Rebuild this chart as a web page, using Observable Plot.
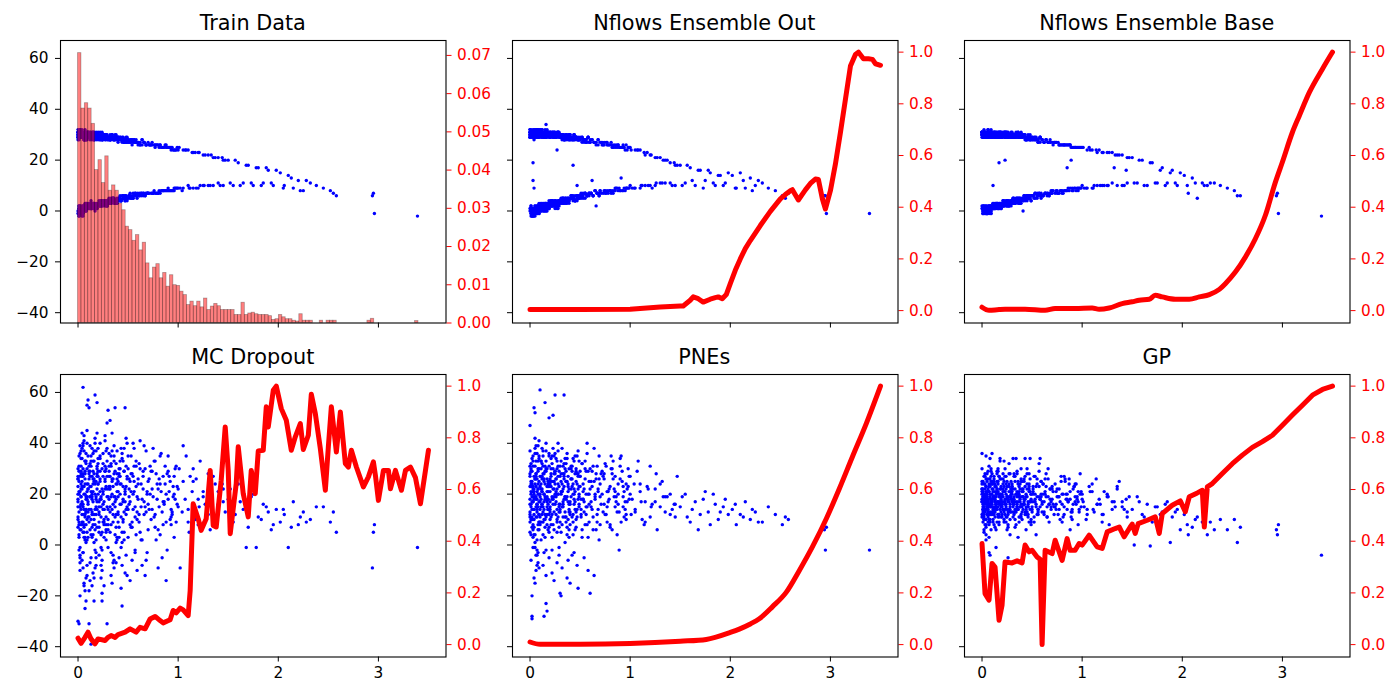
<!DOCTYPE html>
<html><head><meta charset="utf-8">
<script src="https://cdn.jsdelivr.net/npm/d3@7"></script>
<script src="https://cdn.jsdelivr.net/npm/@observablehq/plot@0.6"></script>
<style>
body{margin:0;background:#fff;}
#fig{position:relative;width:1400px;height:700px;background:#fff;font-family:"DejaVu Sans",sans-serif;overflow:hidden;}
.title{position:absolute;text-align:center;font-family:"DejaVu Sans",sans-serif;font-size:20.8px;line-height:21px;color:#000;white-space:nowrap;}
</style></head><body><div id="fig"></div>
<script>
// shared sample inputs (x) for all six panels
const xs = [
0,0.01,0.02,0.03,0.04,0.05,0.06,0.07,0.08,0.09,
0.01,0,0.03,0.02,0.05,0.04,0.07,0.06,0.09,0.08,
0,0.01,0.02,0.03,0.04,0.05,0.06,0.07,0.08,0.09,
0.01,0,0.03,0.02,0.05,0.04,0.07,0.06,0.09,0.08,
0,0.01,0.02,0.03,0.04,0.05,0.06,0.07,0.08,0.09,
0.01,0,0.03,0.02,0.05,0.04,0.07,0.06,0.09,0.08,
0,0.01,0.02,0.03,0.04,0.05,0.06,0.07,0.08,0.09,
0.01,0,0.03,0.02,0.05,0.04,0.07,0.06,0.09,0.08,
0,0.01,0.02,0.03,0.04,0.05,0.06,0.07,0.08,0.09,
0.1,0.11,0.12,0.13,0.14,0.15,0.16,0.17,0.18,0.19,
0.11,0.1,0.13,0.12,0.15,0.14,0.17,0.16,0.19,0.18,
0.1,0.11,0.12,0.13,0.14,0.15,0.16,0.17,0.18,0.19,
0.11,0.1,0.13,0.12,0.15,0.14,0.17,0.16,0.19,0.18,
0.1,0.11,0.12,0.13,0.14,0.15,0.16,0.17,0.18,0.19,
0.11,0.1,0.13,0.12,0.15,0.14,0.17,0.16,0.19,0.18,
0.1,0.11,0.12,0.13,0.14,0.15,0.16,0.17,0.18,0.19,
0.2,0.21,0.22,0.23,0.24,0.25,0.26,0.27,0.28,0.29,
0.21,0.2,0.23,0.22,0.25,0.24,0.27,0.26,0.29,0.28,
0.2,0.21,0.22,0.23,0.24,0.25,0.26,0.27,0.28,0.29,
0.21,0.2,0.23,0.22,0.25,0.24,0.27,0.26,0.29,0.28,
0.2,0.21,0.22,0.23,0.24,0.25,0.26,0.27,0.28,0.29,
0.21,0.2,0.23,0.22,0.25,0.24,0.27,0.26,0.29,0.28,
0.3,0.31,0.32,0.33,0.34,0.35,0.36,0.37,0.38,0.39,
0.31,0.3,0.33,0.32,0.35,0.34,0.37,0.36,0.39,0.38,
0.3,0.31,0.32,0.33,0.34,0.35,0.36,0.37,0.38,0.39,
0.31,0.3,0.33,0.32,0.35,0.34,0.37,0.36,0.39,0.38,
0.3,0.31,0.32,0.33,0.34,0.35,0.36,0.37,0.38,0.39,
0.4,0.41,0.42,0.43,0.44,0.45,0.46,0.47,0.48,0.49,
0.41,0.4,0.43,0.42,0.45,0.44,0.47,0.46,0.49,0.48,
0.4,0.41,0.42,0.43,0.44,0.45,0.46,0.47,0.48,0.49,
0.41,0.4,0.43,0.42,0.45,0.44,0.47,0.46,0.49,0.48,
0.5,0.51,0.52,0.53,0.54,0.55,0.56,0.57,0.58,0.59,
0.51,0.5,0.53,0.52,0.55,0.54,0.57,0.56,0.59,0.58,
0.5,0.51,0.52,0.53,0.54,0.55,0.56,0.57,0.58,0.59,
0.6,0.61,0.62,0.63,0.64,0.65,0.66,0.67,0.68,0.69,
0.61,0.6,0.63,0.62,0.65,0.64,0.67,0.66,0.69,0.68,
0.7,0.73,0.76,0.79,0.82,0.85,0.88,0.91,0.94,0.97,
0.71,0.74,0.77,0.8,0.83,0.86,0.89,0.92,0.95,0.98,
0.72,0.75,0.78,0.81,0.84,0.87,0.9,0.93,0.96,0.99,
0.7,0.74,0.78,0.81,0.84,0.87,0.9,0.93,0.96,0.99,
0.72,0.75,0.77,0.8,0.82,0.85,0.88,0.9,0.93,0.96,
1,1.05,1.1,1.15,1.2,1.25,1.3,1.35,1.4,1.45,
1.02,1.07,1.12,1.17,1.22,1.27,1.32,1.37,1.42,1.47,
1.01,1.04,1.08,1.11,1.14,1.18,1.21,1.26,1.33,1.44,
1.5,1.55,1.6,1.65,1.7,1.75,1.8,1.85,1.9,1.95,
1.52,1.57,1.62,1.68,1.73,1.78,1.83,1.88,1.93,1.98,
2.02,2.06,2.1,2.15,2.2,2.25,2.32,2.38,2.45,2.95,
2.05,2.13,2.22,2.28,2.52,2.55,2.58,2.94,2.96,3.39,
0,0.01,0.02,0.03,0.04,0.05,0.06,0.07,0.08,0.09,
0.01,0,0.03,0.02,0.05,0.04,0.07,0.06,0.09,0.08,
0,0.01,0.02,0.03,0.04,0.05,0.06,0.07,0.08,0.09,
0.01,0,0.03,0.02,0.05,0.04,0.07,0.06,0.09,0.08,
0.1,0.11,0.12,0.13,0.14,0.15,0.16,0.17,0.18,0.19,
0.11,0.1,0.13,0.12,0.15,0.14,0.17,0.16,0.19,0.18,
0.1,0.11,0.12,0.13,0.14,0.15,0.16,0.17,0.18,0.19,
0.2,0.21,0.22,0.23,0.24,0.25,0.26,0.27,0.28,0.29,
0.21,0.2,0.23,0.22,0.25,0.24,0.27,0.26,0.29,0.28,
0.3,0.31,0.32,0.33,0.34,0.35,0.36,0.37,0.38,0.39,
0.31,0.3,0.33,0.32,0.35,0.34,0.37,0.36,0.39,0.38,
0.4,0.41,0.42,0.43,0.44,0.45,0.46,0.47,0.48,0.49,
0.41,0.4,0.43,0.42,0.45,0.44,0.47,0.46,0.49,0.48,
0.51,0.5,0.53,0.52,0.55,0.54,0.57,0.56,0.59,0.58,
0.6,0.61,0.62,0.63,0.64,0.65,0.66,0.67,0.68,0.69,
0.7,0.73,0.76,0.79,0.82,0.85,0.88,0.91,0.94,0.97,
0.71,0.74,0.77,0.8,0.83,0.86,0.89,0.92,0.95,0.98,
1,1.05,1.1,1.15,1.2,1.25,1.3,1.35,1.4,1.45
];

const yTrain = [
31,-1,29,1,30,-2,28,2,31,1,
1,30,-1,32,0,29,3,30,2,28,
29,2,31,0,-2,30,1,32,0,29,
0,28,30,-1,31,2,29,1,30,3,
32,1,-1,29,31,0,2,30,29,1,
2,31,29,0,-1,30,28,2,1,31,
30,-2,1,31,29,1,30,0,3,28,
28,0,31,2,30,-1,1,29,31,0,
-1,29,2,30,0,31,2,28,30,1,
30,2,29,1,31,3,29,2,30,1,
1,31,3,29,2,30,0,29,3,30,
29,2,30,4,1,31,28,2,29,3,
3,30,1,29,31,2,30,1,2,29,
31,1,2,30,29,3,1,30,28,2,
2,29,30,3,1,28,30,2,29,1,
30,3,29,1,2,30,3,29,2,30,
29,3,30,2,28,4,30,3,29,2,
2,29,4,31,3,28,2,30,4,29,
30,2,3,29,28,4,30,3,2,29,
4,28,29,3,30,2,4,29,30,3,
29,3,2,30,4,29,3,28,29,4,
3,30,29,2,28,4,30,3,2,30,
29,4,28,3,30,5,29,4,28,3,
3,29,5,28,4,30,3,28,5,29,
28,4,29,3,5,28,4,30,3,29,
5,29,3,28,29,4,28,5,29,4,
29,3,4,28,30,5,3,29,4,28,
28,5,29,4,28,6,27,5,29,4,
5,28,4,29,6,28,5,27,5,28,
29,4,6,28,27,5,28,4,6,29,
4,27,28,5,29,6,4,28,5,27,
28,5,27,6,28,5,27,7,28,6,
6,27,5,28,7,27,6,28,5,27,
27,6,7,28,26,5,28,6,27,7,
27,6,26,7,28,6,27,7,26,7,
7,27,6,26,7,28,6,27,7,26,
27,7,26,7,26,8,25,8,25,9,
7,26,7,26,8,25,8,25,8,24,
26,7,26,8,25,8,25,8,24,9,
7,27,7,25,8,26,8,24,9,25,
26,7,25,7,26,8,26,9,25,8,
24,9,24,9,23,10,22,10,21,10,
9,24,9,23,10,22,10,21,10,20,
25,8,24,9,23,9,23,10,22,21,
20,10,19,11,18,10,17,11,16,10,
11,20,10,18,11,17,10,17,11,16,
15,10,14,9,12,8,11,10,9,7,
9,13,8,12,8,7,6,6,-1,-2,
30,0,32,-1,29,2,31,1,28,2,
-2,31,0,29,1,32,2,29,3,30,
29,1,30,-1,31,0,28,2,30,2,
0,29,1,31,-1,30,1,28,2,31,
31,2,28,1,30,3,31,2,29,3,
2,29,1,31,3,30,2,28,1,29,
29,1,31,3,30,2,28,3,31,2,
30,3,28,4,31,2,29,4,28,3,
3,31,2,28,4,30,3,29,2,30,
28,3,30,4,29,5,28,3,30,4,
4,29,3,28,5,29,4,28,3,29,
29,5,28,4,29,5,28,6,27,5,
5,29,4,28,5,28,6,27,5,28,
6,28,5,27,6,28,7,27,6,27,
26,6,27,7,26,7,27,6,26,7,
7,26,8,26,7,25,8,25,8,24,
26,7,26,7,25,8,25,8,24,9,
9,24,10,23,9,22,10,21,11,20
];

const yOut = [
31,-1,30,19,29,-2,31,0,30,1,
0,31,12,29,1,30,-1,32,2,30,
30,1,31,-1,9,32,0,29,2,31,
-1,29,31,1,30,-2,32,0,29,2,
31,2,0,30,31,-1,1,29,32,0,
1,30,32,-2,0,31,30,1,-1,29,
29,0,-1,31,30,2,31,-1,1,30,
32,1,30,-1,29,0,2,31,30,1,
0,30,-2,31,1,29,0,32,31,2,
30,1,31,2,29,0,31,3,30,1,
2,30,0,32,1,31,3,29,2,30,
31,0,30,3,1,29,34,2,31,3,
1,31,2,30,32,0,30,3,1,29,
30,2,1,31,29,3,2,30,31,1,
3,31,30,1,2,29,32,0,30,2,
31,2,29,3,1,30,2,31,3,30,
30,2,31,3,29,1,30,4,31,2,
3,30,2,31,4,29,24,30,3,31,
29,3,2,31,30,4,29,3,1,30,
2,31,30,4,29,3,1,30,31,2,
31,3,4,29,2,30,3,31,30,4,
4,29,30,2,31,3,30,2,4,29,
29,4,30,3,28,5,30,4,29,5,
4,30,3,29,5,28,4,30,3,29,
30,5,28,4,3,29,5,30,4,28,
3,29,5,30,28,4,29,3,30,5,
29,4,5,30,28,3,4,29,5,30,
29,5,28,18,30,4,29,6,28,5,
6,29,5,28,4,30,10,29,5,28,
28,6,5,29,30,4,29,6,5,28,
5,30,28,6,29,5,4,28,6,29,
28,6,29,5,28,7,27,6,29,6,
6,28,7,29,5,28,6,27,7,29,
29,5,6,28,27,7,28,6,29,7,
28,7,12,6,27,8,2,7,28,6,
7,27,6,28,8,27,7,26,6,28,
27,7,27,8,26,8,26,13,25,9,
7,27,8,26,7,26,9,25,8,25,
27,8,26,7,26,9,25,8,26,9,
8,26,7,27,8,25,8,26,9,25,
26,7,27,8,25,9,26,8,25,9,
25,9,24,10,22,10,21,11,19,10,
9,24,10,23,9,21,11,20,10,18,
24,9,24,10,23,10,22,11,20,19,
18,11,17,10,16,12,15,10,14,11,
10,18,12,16,9,16,11,14,10,15,
14,9,15,9,13,10,11,9,8,6,
9,12,8,12,6,5,7,6,-1,-1,
29,1,31,-2,32,0,30,2,29,-1,
2,32,-1,30,0,28,1,31,0,29,
32,-2,29,0,30,1,31,-1,30,3,
1,30,-2,31,2,31,0,30,1,32,
29,3,32,1,30,2,29,0,31,2,
0,32,2,29,3,31,1,30,2,31,
32,1,30,2,31,3,29,2,30,4,
31,4,29,2,31,3,29,2,30,4,
2,29,4,30,3,31,2,29,3,31,
30,3,29,5,30,4,29,3,28,4,
4,29,5,30,4,29,5,28,4,29,
30,5,29,4,28,6,29,5,28,6,
5,28,6,29,4,28,6,29,5,28,
7,28,6,27,7,28,6,28,7,27,
27,7,28,6,27,8,27,7,26,7,
8,26,7,26,8,25,8,25,9,24,
27,8,26,8,25,9,25,8,24,9,
10,24,9,22,10,21,11,20,11,18
];

const yBase = [
30,0,31,-1,29,1,32,0,30,2,
-1,31,1,30,0,29,2,31,-1,30,
31,-1,30,1,2,29,0,31,1,32,
1,30,29,0,31,-1,30,2,31,0,
30,-1,2,31,29,1,0,30,31,2,
0,31,30,2,-1,29,31,0,1,30,
31,1,0,30,29,-1,32,1,2,29,
29,2,31,0,30,1,-1,31,29,0,
1,29,0,31,2,30,1,29,30,-1,
30,10,29,1,31,2,30,1,29,3,
2,31,1,30,3,29,19,31,2,29,
31,1,30,3,2,29,30,1,31,2,
1,30,3,29,30,2,31,1,3,30,
29,2,1,31,30,3,2,29,31,1,
3,30,29,1,2,31,30,2,29,3,
30,1,31,2,3,29,1,30,2,31,
29,3,31,20,30,2,29,3,30,2,
2,30,3,29,4,31,2,29,4,30,
30,3,2,29,31,4,30,2,3,29,
3,29,31,2,30,4,3,29,31,3,
30,2,4,31,29,3,2,30,29,4,
4,30,29,3,31,2,30,4,3,29,
30,4,29,3,31,4,29,5,30,3,
3,29,4,30,5,29,3,31,4,29,
29,5,30,3,4,30,5,29,3,31,
4,30,3,29,30,5,29,4,30,3,
31,3,5,29,30,4,3,30,5,29,
29,0,30,5,29,6,28,5,30,4,
5,29,4,30,6,28,5,29,6,28,
30,5,6,28,29,4,30,6,5,29,
4,29,30,6,28,5,6,29,4,28,
29,6,28,5,29,6,28,7,29,5,
6,28,7,29,5,28,6,27,7,29,
28,6,5,29,28,7,27,6,29,6,
28,6,27,7,28,6,27,7,28,7,
6,28,7,27,7,28,6,27,7,27,
27,7,27,8,26,17,26,8,25,9,
8,27,7,26,8,26,20,25,9,25,
27,8,26,7,26,8,25,9,25,9,
7,27,8,26,8,26,8,25,9,25,
27,7,26,8,26,8,26,9,25,8,
25,9,24,10,23,10,23,10,22,11,
9,25,10,24,10,23,17,22,10,21,
25,9,24,9,24,10,23,10,22,16,
21,11,20,10,19,11,17,11,16,10,
11,20,10,19,11,16,10,15,11,15,
14,7,13,5,11,10,11,10,9,7,
10,11,10,11,8,6,6,6,-1,-2,
31,1,30,0,31,-1,29,1,31,0,
0,30,-1,32,1,30,0,29,2,31,
29,2,31,0,30,-1,31,2,29,1,
1,31,0,29,-1,31,1,30,0,30,
31,1,30,2,29,3,31,2,30,1,
3,29,2,31,1,30,3,29,1,30,
29,2,31,1,30,3,29,3,31,2,
31,2,30,3,29,4,31,2,30,3,
4,29,3,31,2,30,4,29,3,30,
29,5,30,3,29,4,31,5,29,4,
4,30,3,29,5,30,4,29,5,30,
29,4,30,5,28,6,29,5,29,6,
5,30,6,29,5,28,6,29,6,28,
6,29,7,28,6,28,7,28,6,27,
28,6,27,7,28,7,27,6,27,8,
8,27,7,26,8,26,9,25,8,25,
26,8,26,7,26,9,25,9,25,9,
10,24,9,23,10,23,11,22,10,21
];

const yMC = [
18,35,-4,22,9,28,41,3,14,-12,
25,7,31,-20,16,44,2,20,-8,33,
11,-2,27,19,38,5,-15,24,13,30,
21,-30,8,36,15,-6,26,12,45,1,
17,29,-10,6,23,39,14,-25,32,10,
4,20,34,-1,27,12,-18,43,19,8,
30,13,-5,24,16,40,7,28,-13,21,
9,26,37,15,-3,22,33,5,18,-22,
27,-31,15,29,8,62,3,20,14,55,
57,54,19,-39,27,8,-22,59,12,56,
-31,22,31,6,17,38,-9,25,14,2,
24,11,-14,33,19,4,28,42,-3,17,
9,35,21,-7,26,13,40,1,30,18,
16,-18,29,23,7,36,12,-2,25,44,
31,3,14,27,-11,20,8,37,22,-5,
13,26,39,10,-16,24,33,6,19,28,
20,-4,34,15,-22,27,9,41,23,-31,
12,29,-8,18,36,5,25,14,48,2,
38,7,21,-13,30,16,3,26,11,33,
17,24,-1,40,9,22,31,-16,19,6,
27,13,35,4,-19,21,10,29,37,15,
5,32,18,26,14,-6,43,8,22,30,
53,18,49,-3,25,12,33,54,7,21,
29,10,-12,23,16,37,4,19,28,-7,
14,31,22,8,-15,26,39,11,18,2,
36,-1,19,27,9,44,15,-9,24,32,
6,23,13,35,20,-4,28,17,1,26,
21,7,30,-17,-24,18,38,54,12,26,
3,25,16,33,10,-8,22,29,40,14,
19,-5,27,11,36,23,5,17,31,-12,
28,13,-1,24,9,34,20,2,15,42,
14,26,8,35,-6,20,31,11,23,-10,
22,3,28,17,40,9,-2,25,13,33,
30,16,-14,21,7,27,38,15,4,19,
18,32,5,24,-8,29,12,-12,37,20,
9,26,15,41,22,2,30,17,-3,13,
25,10,33,18,4,27,-14,21,12,30,
14,29,7,22,36,16,-2,25,19,9,
31,19,2,26,13,24,35,8,20,16,
6,22,28,15,-5,31,18,11,27,23,
20,38,12,-9,24,17,9,29,14,3,
22,39,14,25,8,19,28,12,21,17,
-9,18,27,10,33,16,6,24,20,13,
30,13,35,5,21,26,15,9,18,24,
18,9,24,14,7,20,11,16,13,8,
22,12,17,-1,19,-1,10,15,6,14,
9,12,-1,17,8,13,10,15,15,5,
14,7,11,9,9,13,5,-9,8,-1,
15,31,6,19,27,-9,23,12,36,2,
20,10,28,39,-3,17,33,8,24,13,
26,3,21,14,34,9,-16,29,18,40,
8,23,16,-7,30,25,11,37,5,19,
22,14,32,-5,18,29,10,24,37,7,
29,17,4,23,33,12,20,-13,27,15,
11,28,19,35,3,21,26,14,-8,31,
24,9,29,19,-10,32,14,22,5,27,
15,34,11,25,20,-2,29,17,38,8,
19,27,5,32,14,23,-6,29,12,37,
22,8,31,15,-7,26,19,35,3,24,
12,27,20,38,5,17,29,-11,23,14,
30,9,24,16,33,1,21,13,27,-4,
19,35,7,25,14,28,-3,21,10,31,
24,12,30,2,18,27,39,15,-6,21,
16,29,11,24,35,8,20,27,13,18,
26,14,33,6,21,17,28,10,23,31,
15,25,9,30,18,21,12,27,16,22
];

const yPNE = [
47,20,-28,8,54,31,15,-4,22,12,
16,27,3,-20,52,10,36,19,-9,24,
13,-6,29,21,7,38,18,2,33,25,
32,9,17,-29,24,14,-2,28,41,6,
5,23,11,35,-13,19,27,16,8,30,
21,37,-1,14,26,4,18,33,12,-7,
28,15,24,6,20,42,-10,11,29,17,
10,31,19,25,1,22,13,-4,35,20,
23,4,34,17,12,-15,26,21,39,9,
61,18,27,9,-28,56,-23,-26,14,50,
22,11,35,16,3,28,19,40,7,25,
14,30,21,-8,26,12,33,17,24,5,
27,8,15,38,19,-3,23,11,31,18,
9,24,32,13,20,29,-12,26,16,36,
33,17,4,22,10,25,15,30,-5,21,
19,2,26,31,14,18,37,8,23,12,
17,28,-11,51,25,59,12,33,20,7,
30,14,22,-2,36,19,9,26,15,40,
24,11,35,18,6,29,21,-7,27,13,
8,26,16,32,20,-14,30,17,23,37,
21,34,3,25,13,28,19,10,31,-4,
27,15,38,12,29,22,5,20,16,24,
-19,-20,24,16,59,30,11,34,21,6,
25,13,31,-9,19,27,36,9,22,17,
14,33,8,22,28,1,18,25,-6,30,
20,27,15,38,11,23,-13,29,16,10,
31,5,21,17,26,13,32,19,24,3,
-15,22,29,12,18,35,7,24,-17,15,
26,16,9,31,21,-3,28,13,19,37,
12,30,23,4,33,17,25,-8,27,20,
19,8,34,26,14,22,11,30,16,28,
23,11,32,18,-5,26,15,36,20,9,
14,29,21,6,30,17,40,12,25,-10,
27,18,3,24,13,33,20,8,29,16,
-19,25,14,31,-12,20,28,9,22,35,
17,30,6,23,19,38,12,26,2,21,
24,13,31,18,6,27,20,35,11,22,
16,28,9,23,33,17,-2,25,14,30,
29,12,21,35,19,4,26,15,24,18,
8,26,17,30,22,13,34,19,10,27,
20,32,15,7,28,21,16,31,23,12,
27,14,21,9,31,17,24,13,20,11,
18,29,10,23,16,6,25,19,14,27,
12,24,33,17,8,22,15,28,19,16,
15,20,9,17,12,21,8,16,13,18,
19,11,14,6,18,13,20,10,15,12,
14,8,12,17,10,13,9,15,12,-2,
16,11,14,9,8,11,10,6,7,-2,
18,29,7,23,14,36,11,26,-3,20,
25,12,31,19,4,27,16,39,9,22,
11,24,17,33,21,-1,28,14,30,6,
30,16,22,10,26,18,-8,23,34,15,
20,33,12,26,17,7,29,21,14,35,
9,23,28,16,31,20,12,-2,25,18,
27,15,21,37,10,24,18,30,6,23,
13,25,19,8,28,16,34,22,11,29,
23,10,30,18,24,35,14,26,-1,20,
16,28,21,11,32,19,25,7,23,14,
21,9,28,15,34,18,4,25,13,27,
17,31,11,24,20,6,29,14,22,33,
26,13,20,-4,28,16,35,10,23,18,
12,27,18,32,8,22,15,29,20,3,
22,15,29,11,25,18,6,31,14,26,
19,27,12,22,30,15,24,9,21,17,
28,16,21,8,26,19,13,29,17,23,
20,13,24,17,11,22,15,19,12,16
];

const yGP = [
36,14,20,8,17,25,11,-3,19,15,
16,22,13,5,28,18,10,21,15,26,
12,19,24,16,2,20,14,31,9,17,
21,11,17,27,15,7,23,13,18,34,
18,25,6,14,21,12,29,16,-4,20,
14,30,19,10,16,23,8,17,25,13,
22,9,15,20,35,18,12,24,16,6,
11,17,28,13,19,4,21,15,30,18,
24,15,10,22,14,26,17,3,20,12,
36,19,12,24,16,9,21,27,14,18,
13,22,17,8,25,15,20,30,11,16,
20,14,26,18,-1,21,12,17,33,23,
15,28,11,19,22,6,16,25,13,20,
24,10,18,21,14,29,17,8,19,15,
9,17,23,13,20,16,27,12,22,34,
18,25,14,7,16,22,11,19,26,17,
16,21,13,27,9,18,-5,23,15,20,
22,12,30,17,14,24,19,8,21,16,
11,19,25,14,20,6,17,28,13,22,
26,15,18,10,23,16,32,12,19,14,
17,28,9,21,15,19,13,24,4,18,
14,20,16,33,11,22,17,7,25,19,
18,34,12,22,34,15,20,9,24,16,
13,21,27,16,19,8,23,14,30,17,
20,11,17,25,14,21,3,19,15,26,
16,23,10,18,28,13,20,17,12,22,
24,15,19,7,17,29,14,21,18,11,
15,21,18,34,12,24,17,9,34,20,
22,13,27,16,19,6,23,15,18,26,
10,19,16,23,14,30,12,21,17,8,
19,25,13,17,22,15,28,11,20,14,
17,23,11,20,15,26,13,32,34,19,
21,14,18,9,24,16,29,12,20,15,
13,22,27,17,4,19,14,23,18,25,
16,24,12,20,28,15,19,9,22,17,
20,13,26,17,11,23,16,30,14,18,
18,24,12,27,15,20,6,22,16,13,
21,14,19,9,25,17,13,23,19,28,
15,22,17,11,20,26,14,19,8,21,
23,16,10,20,18,24,13,17,21,15,
12,19,22,16,27,14,18,10,24,17,
20,12,24,16,9,19,14,22,17,11,
15,23,13,18,21,8,17,25,14,19,
17,10,21,14,26,16,12,19,15,18,
14,19,12,16,9,15,13,17,11,14,
0,17,11,-0.4,15,12,16,1,13,6,
12,4,7,11,9,4,6,10,6,4,
8,10,11,9,10,1,7,6,8,-4,
17,22,12,19,26,15,9,21,16,24,
14,20,27,11,17,23,15,18,29,10,
21,13,18,24,8,19,22,16,12,27,
19,25,14,17,21,10,26,13,18,23,
16,21,25,13,19,28,15,11,22,17,
22,12,17,27,14,20,9,24,16,19,
13,24,19,15,23,17,29,12,20,26,
19,14,23,17,11,25,18,21,28,13,
24,16,12,21,19,27,14,18,22,10,
17,22,28,13,20,15,24,19,11,25,
18,23,14,27,16,20,11,25,19,15,
21,16,25,12,19,28,15,22,17,10,
14,22,18,26,13,20,24,16,9,21,
20,15,27,17,12,23,19,14,25,18,
17,24,13,21,19,11,26,16,22,15,
22,15,19,25,12,18,21,16,24,14,
16,21,14,20,26,17,11,23,18,20,
18,14,21,16,12,20,17,23,15,13
];

// Train Data histogram (right axis): bin heights, bins of width 0.034 starting at 0
const histHeights = [
0.0706,0.0561,0.0575,0.0561,0.0521,0.040,0.0426,0.0366,0.0436,0.0346,
0.036,0.0346,0.0312,0.0295,0.0252,0.0243,0.0215,0.023,0.019,0.021,
0.0156,0.0117,0.0145,0.0154,0.0117,0.0131,0.0095,0.0125,0.0099,0.0097,
0.0082,0.0073,0.0047,0.0056,0.0044,0.0056,0.0041,0.0064,0.0034,0.0043,
0.005,0.0044,0.0034,0.0034,0.0034,0.0034,0.0021,0.0021,0.0053,0.0021,
0.0025,0.0027,0.0023,0.0021,0.0021,0.0021,0.0018,0.0008,0.001,0.0021,
0.0015,0.001,0.001,0.0006,0.0004,0.0023,0.0006,0.0006,0.0006,0,
0,0.0006,0,0.0006,0.0006,0.0006,0,0,0,0,
0,0,0,0,0,0.0006,0.0011,0,0,0,
0,0,0,0,0,0,0,0,0,0.0005
];
const histStart = 0, histBinWidth = 0.034;

// red curves (right axis)
const outX = [0,0.5,1,1.3,1.5,1.53,1.6,1.63,1.68,1.73,1.8,1.85,1.88,1.92,1.96,2.0,2.05,2.1,2.15,2.2,2.3,2.4,2.5,2.55,2.6,2.62,2.68,2.75,2.8,2.85,2.88,2.92,2.95,3.0,3.05,3.1,3.15,3.2,3.25,3.28,3.33,3.38,3.42,3.45,3.5];
const outV = [0.004,0.004,0.005,0.014,0.018,0.018,0.04,0.053,0.046,0.033,0.044,0.05,0.053,0.046,0.062,0.104,0.156,0.2,0.24,0.271,0.329,0.384,0.432,0.449,0.464,0.468,0.428,0.467,0.492,0.509,0.507,0.432,0.393,0.464,0.567,0.689,0.817,0.946,0.991,1.0,0.974,0.974,0.972,0.955,0.949];

const baseX = [0,0.07,0.17,0.23,0.43,0.63,0.73,0.93,1.1,1.17,1.27,1.4,1.5,1.57,1.67,1.73,1.8,1.93,2.07,2.17,2.27,2.37,2.43,2.53,2.63,2.73,2.83,2.93,3.0,3.1,3.17,3.27,3.4,3.5];
const baseV = [0.013,0.001,0.004,0.005,0.005,0.001,0.008,0.008,0.01,0.005,0.01,0.027,0.034,0.04,0.044,0.059,0.053,0.044,0.044,0.053,0.062,0.082,0.104,0.149,0.207,0.278,0.369,0.497,0.575,0.69,0.755,0.845,0.935,1.0];

const mcX = [0,0.03,0.07,0.1,0.13,0.17,0.2,0.27,0.3,0.33,0.37,0.4,0.47,0.52,0.58,0.62,0.67,0.72,0.77,0.82,0.85,0.92,0.95,0.98,1.02,1.05,1.1,1.12,1.15,1.2,1.23,1.28,1.32,1.35,1.38,1.43,1.47,1.5,1.52,1.58,1.6,1.65,1.7,1.73,1.77,1.8,1.85,1.88,1.9,1.95,1.98,2.03,2.08,2.13,2.17,2.22,2.25,2.3,2.33,2.37,2.42,2.47,2.5,2.53,2.58,2.62,2.67,2.7,2.73,2.78,2.85,2.9,2.95,2.97,3.0,3.05,3.1,3.12,3.17,3.23,3.27,3.32,3.37,3.42,3.47,3.5];
const mcV = [0.025,0.005,0.028,0.048,0.022,0.003,0.022,0.016,0.028,0.035,0.028,0.039,0.048,0.061,0.048,0.067,0.061,0.099,0.109,0.093,0.084,0.096,0.132,0.123,0.141,0.134,0.112,0.209,0.545,0.487,0.442,0.487,0.674,0.461,0.455,0.636,0.842,0.674,0.429,0.623,0.765,0.584,0.494,0.674,0.584,0.749,0.752,0.92,0.842,0.984,1.0,0.913,0.868,0.752,0.804,0.855,0.755,0.81,0.969,0.894,0.758,0.597,0.765,0.92,0.745,0.9,0.7,0.687,0.752,0.687,0.61,0.649,0.707,0.655,0.558,0.674,0.674,0.603,0.674,0.597,0.674,0.687,0.646,0.545,0.674,0.752];

const pneX = [0,0.1,0.5,1.0,1.5,1.76,2.0,2.09,2.2,2.29,2.42,2.56,2.69,2.82,2.96,3.09,3.22,3.36,3.5];
const pneV = [0.01,0.001,0.001,0.004,0.013,0.02,0.047,0.06,0.08,0.1,0.146,0.203,0.287,0.378,0.488,0.604,0.727,0.857,1.0];

const gpX = [0,0.03,0.07,0.1,0.13,0.17,0.2,0.23,0.3,0.35,0.4,0.43,0.47,0.5,0.55,0.58,0.6,0.63,0.7,0.73,0.8,0.85,0.88,0.93,0.97,1.0,1.07,1.15,1.2,1.25,1.33,1.37,1.42,1.48,1.5,1.53,1.56,1.65,1.73,1.77,1.8,1.9,1.98,2.03,2.07,2.15,2.2,2.22,2.25,2.3,2.4,2.5,2.6,2.7,2.8,2.9,3.0,3.1,3.2,3.3,3.4,3.5];
const gpV = [0.391,0.197,0.172,0.314,0.3,0.094,0.152,0.32,0.316,0.324,0.316,0.385,0.359,0.365,0.339,0.33,0.0,0.365,0.352,0.404,0.326,0.41,0.365,0.365,0.391,0.385,0.423,0.378,0.372,0.436,0.449,0.455,0.417,0.455,0.466,0.43,0.468,0.481,0.494,0.43,0.507,0.539,0.556,0.514,0.572,0.587,0.597,0.455,0.61,0.623,0.662,0.7,0.733,0.763,0.785,0.81,0.849,0.888,0.926,0.965,0.987,1.0];

const titles = ["Train Data","Nflows Ensemble Out","Nflows Ensemble Base","MC Dropout","PNEs","GP"];
const xTicks = [0,1,2,3];
const yTicks = [-40,-20,0,20,40,60];
const lineTicks = [0,0.2,0.4,0.6,0.8,1.0];
const histTicks = [0,0.01,0.02,0.03,0.04,0.05,0.06,0.07];

// ---- layout ----
const colLeft = [60,511.5,964], rowTop = [40,374];
const W = 385.5, H = 282.5;
const ML = 60, MR = 60, MT = 10, MB = 40;
const xDomain = [-0.175, 3.675];
const yDomain = [-44.05, 67.05];
const fig = document.getElementById("fig");
const fontStyle = {fontFamily:"DejaVu Sans, sans-serif", fontSize:"15.3px", overflow:"visible", color:"black", background:"transparent"};
const fmtInt = d => (d < 0 ? "\u2212" + (-d) : String(d));

function place(svg, left, top) {
  svg.style.position = "absolute";
  svg.style.left = (left - ML) + "px";
  svg.style.top = (top - MT) + "px";
  svg.style.maxWidth = "none";
  fig.appendChild(svg);
}

const specs = [
  {ys: yTrain, hist: true},
  {ys: yOut, lx: outX, lv: outV, curve: "linear"},
  {ys: yBase, lx: baseX, lv: baseV, curve: "monotone-x"},
  {ys: yMC, lx: mcX, lv: mcV, curve: "linear"},
  {ys: yPNE, lx: pneX, lv: pneV, curve: "monotone-x"},
  {ys: yGP, lx: gpX, lv: gpV, curve: "linear"}
];

specs.forEach((s, i) => {
  const r = Math.floor(i / 3), c = i % 3;
  const left = colLeft[c], top = rowTop[r];
  const n = Math.min(xs.length, s.ys.length);
  const pts = [];
  for (let k = 0; k < n; k++) pts.push({x: xs[k], y: s.ys[k]});

  const base = Plot.plot({
    width: W + ML + MR, height: H + MT + MB,
    marginLeft: ML, marginRight: MR, marginTop: MT, marginBottom: MB,
    style: fontStyle,
    x: {domain: xDomain, label: null},
    y: {domain: yDomain, label: null},
    marks: [
      Plot.dot(pts, {x: "x", y: "y", r: 1.7, fill: "#0000ff", stroke: "none"}),
      Plot.axisY({ticks: yTicks, tickSize: 5, tickPadding: 7, label: null,
                  tickFormat: c === 0 ? fmtInt : () => ""}),
      Plot.axisX({ticks: xTicks, tickSize: 5, tickPadding: 5, label: null,
                  tickFormat: r === 1 ? fmtInt : () => ""})
    ]
  });
  place(base, left, top);

  let marks = [];
  let yd, ticks, tf;
  if (s.hist) {
    const bins = histHeights.map((h, k) => ({x1: histStart + k * histBinWidth, x2: histStart + (k + 1) * histBinWidth, h})).filter(d => d.h > 0);
    yd = [0, 0.0739]; ticks = histTicks; tf = d3.format(".2f");
    marks.push(Plot.rectY(bins, {x1: "x1", x2: "x2", y: "h", fill: "red", fillOpacity: 0.5, stroke: "black", strokeOpacity: 0.3, strokeWidth: 0.8}));
  } else {
    const m = Math.min(s.lx.length, s.lv.length);
    const line = [];
    for (let k = 0; k < m; k++) line.push({x: s.lx[k], v: s.lv[k]});
    yd = [-0.048, 1.045]; ticks = lineTicks; tf = d3.format(".1f");
    marks.push(Plot.line(line, {x: "x", y: "v", stroke: "red", strokeWidth: 5, curve: s.curve}));
  }
  marks.push(Plot.axisY({anchor: "right", ticks, tickSize: 5, tickPadding: 6, tickFormat: tf, label: null, color: "red", stroke: "red", fill: "red"}));
  marks.push(Plot.frame({stroke: "black", strokeWidth: 1.1}));

  const over = Plot.plot({
    width: W + ML + MR, height: H + MT + MB,
    marginLeft: ML, marginRight: MR, marginTop: MT, marginBottom: MB,
    style: fontStyle,
    x: {domain: xDomain, axis: null},
    y: {domain: yd, label: null},
    marks
  });
  place(over, left, top);

  const t = document.createElement("div");
  t.className = "title";
  t.textContent = titles[i];
  t.style.left = left + "px";
  t.style.width = W + "px";
  t.style.top = (top - 26.6) + "px";
  fig.appendChild(t);
});
</script>
</body></html>
